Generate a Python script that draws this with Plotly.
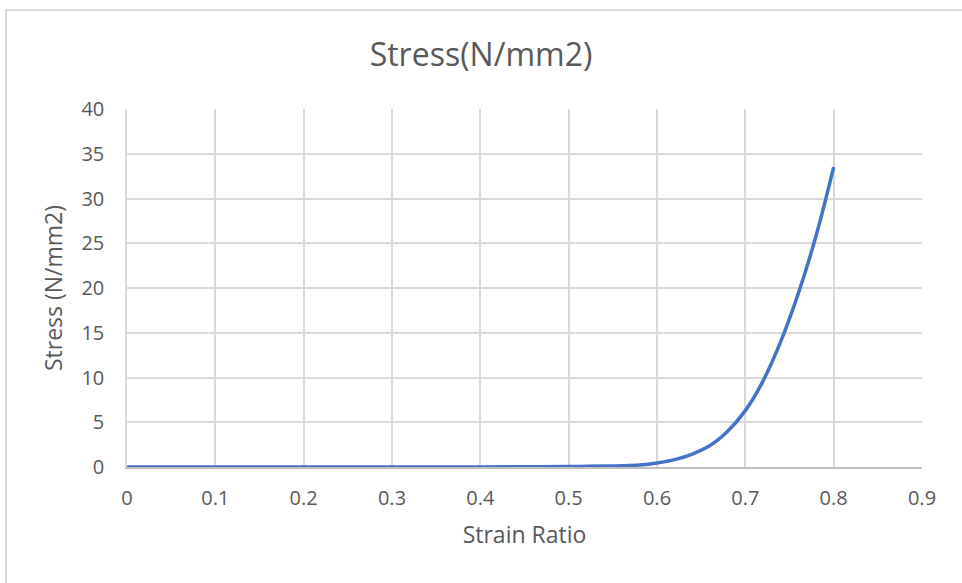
import plotly.graph_objects as go

strain = [0.0, 0.1, 0.2, 0.3, 0.4, 0.45, 0.5, 0.52, 0.54, 0.56, 0.58, 0.6, 0.62, 0.64, 0.66, 0.68,
          0.7, 0.72, 0.74, 0.76, 0.78, 0.8]
stress = [0.0, 0.0, 0.0, 0.0, 0.01, 0.02, 0.05, 0.07, 0.1, 0.14, 0.22, 0.45, 0.82, 1.45, 2.4, 4.0,
          6.3, 9.6, 14.0, 19.4, 25.8, 33.5]

x_ticks = [0, 0.1, 0.2, 0.3, 0.4, 0.5, 0.6, 0.7, 0.8, 0.9]
y_ticks = [0, 5, 10, 15, 20, 25, 30, 35, 40]

FONT = "Open Sans"
TXT = "#595959"
GRID = "#d9d9d9"

fig = go.Figure()
fig.add_trace(go.Scatter(
    x=strain, y=stress, mode="lines",
    line=dict(color="#4472c4", width=3.5, shape="spline", smoothing=1.0),
    showlegend=False, hoverinfo="x+y",
))

fig.update_layout(
    width=962, height=583,
    margin=dict(l=127, r=40, t=109, b=116),
    paper_bgcolor="white", plot_bgcolor="white",
    font=dict(family=FONT, color=TXT, size=20),
    title=dict(text="Stress(N/mm2)", x=0.5, xanchor="center", y=1 - 55 / 583, yanchor="middle",
               font=dict(family=FONT, size=32, color=TXT)),
    xaxis=dict(
        range=[0, 0.9], tickvals=x_ticks, ticktext=[f"{v:g}" for v in x_ticks],
        showgrid=True, gridcolor=GRID, gridwidth=1.5, zeroline=False,
        showline=True, linecolor="#bfbfbf", linewidth=1.5,
        ticks="", ticklabelstandoff=12, tickfont=dict(size=20),
        title=dict(text="Strain Ratio", font=dict(family=FONT, size=23, color=TXT), standoff=17),
        fixedrange=True,
    ),
    yaxis=dict(
        range=[0, 40], tickvals=y_ticks,
        showgrid=True, gridcolor=GRID, gridwidth=1.5, zeroline=False,
        showline=True, linecolor=GRID, linewidth=1.5,
        ticks="", ticklabelstandoff=17, tickfont=dict(size=20),
        title=dict(text="Stress (N/mm2)", font=dict(family=FONT, size=23, color=TXT), standoff=12),
        fixedrange=True,
    ),
    shapes=[dict(
        type="rect", xref="paper", yref="paper",
        x0=(6 - 127) / 795, x1=(975 - 127) / 795,
        y0=(467 - 600) / 358, y1=(467 - 10) / 358,
        line=dict(color=GRID, width=2), fillcolor="rgba(0,0,0,0)", layer="below",
    )],
)

fig.write_html("out.html")
